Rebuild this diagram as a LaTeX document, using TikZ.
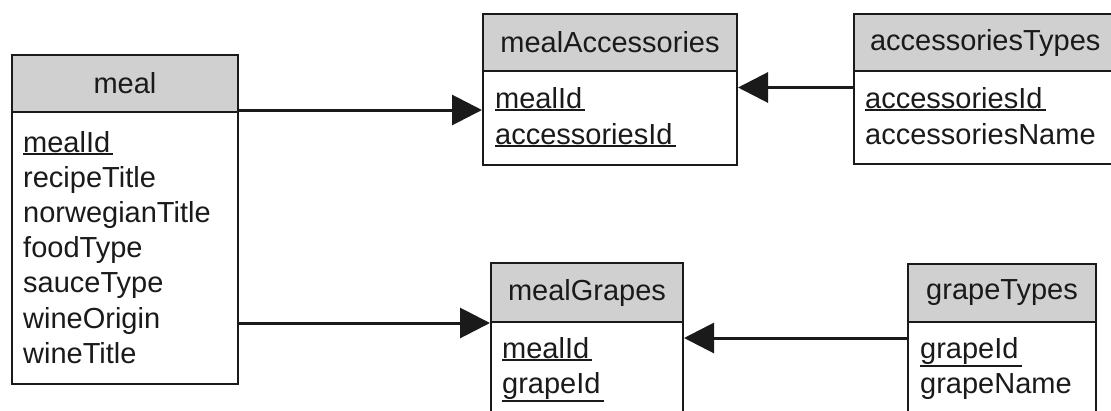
\documentclass[tikz,border=0pt]{standalone}
\usepackage{fontspec}
\setmainfont{Liberation Sans}
\usetikzlibrary{arrows.meta}
\definecolor{hdrfill}{RGB}{208,208,208}
\definecolor{ink}{RGB}{26,26,26}
\newcommand\tabfont{\fontsize{29}{35}\selectfont}
% primary key field: text with a rule just below its lowest point
\newcommand\keyfield[1]{\setbox0\hbox{#1}%
  \rlap{\rule[\dimexpr-\dp0-3pt\relax]{\dimexpr\wd0+3pt\relax}{2pt}}\box0}
\begin{document}
\begin{tikzpicture}[x=1pt,y=-1pt,
  header/.style={draw=ink, line width=2pt, fill=hdrfill, text=ink,
    anchor=north west, inner sep=0pt, minimum height=57pt, font=\tabfont},
  tbody/.style={draw=ink, line width=2pt, fill=white, anchor=north west,
    inner sep=0pt},
  field/.style={anchor=base west, inner sep=0pt, text=ink, font=\tabfont},
  link/.style={draw=ink, line width=3pt,
    -{Triangle[length=30pt,width=30pt]}}]
\useasboundingbox (0,0) rectangle (1111,410);
\clip (0,0) rectangle (1111,410);

% meal
\node[header, minimum width=226pt] (mealH) at (11,54) {meal};
\node[tbody, minimum width=226pt, minimum height=272pt] (mealB) at (11,111) {};
\node[field] (mealF1) at (23,152) {\keyfield{mealId}};
\node[field] (mealF2) at (23,187.2) {recipeTitle};
\node[field] (mealF3) at (23,222.4) {norwegianTitle};
\node[field] (mealF4) at (23,257.6) {foodType};
\node[field] (mealF5) at (23,292.8) {sauceType};
\node[field] (mealF6) at (23,328) {wineOrigin};
\node[field] (mealF7) at (23,363.2) {wineTitle};

% mealAccessories
\node[header, minimum width=254pt] (maH) at (482,13) {mealAccessories};
\node[tbody, minimum width=254pt, minimum height=94pt] (maB) at (482,70) {};
\node[field] (maF1) at (495,108) {\keyfield{mealId}};
\node[field] (maF2) at (495,144) {\keyfield{accessoriesId}};

% accessoriesTypes (its right border sits on the page edge)
\node[header, minimum width=258pt, text width=254pt, align=left] (atH) at (853,13) {\hspace*{14pt}accessoriesTypes};
\node[tbody, minimum width=258pt, minimum height=93pt] (atB) at (853,70) {};
\node[field] (atF1) at (865,108) {\keyfield{accessoriesId}};
\node[field] (atF2) at (865,144) {accessoriesName};

% mealGrapes
\node[header, minimum width=192pt, minimum height=59pt] (mgH) at (490,262) {mealGrapes};
\node[tbody, minimum width=192pt, minimum height=120pt] (mgB) at (490,321) {};
\node[field] (mgF1) at (502,358) {\keyfield{mealId}};
\node[field] (mgF2) at (502,393) {\keyfield{grapeId}};

% grapeTypes
\node[header, minimum width=188pt, minimum height=58pt] (gtH) at (907,263) {grapeTypes};
\node[tbody, minimum width=188pt, minimum height=120pt] (gtB) at (907,321) {};
\node[field] (gtF1) at (920,358) {\keyfield{grapeId}};
\node[field] (gtF2) at (920,393) {grapeName};

% relationships
\coordinate (l1) at ([yshift=3pt]mealH.south east);
\draw[link] (l1) -- (l1 -| maB.west);
\coordinate (l2) at ([yshift=-17.5pt]atB.north west);
\draw[link] (l2) -- (l2 -| maB.east);
\draw[link] (mealB.east |- mgH.south west) -- (mgH.south west);
\coordinate (l4) at ([yshift=-17pt]gtB.north west);
\draw[link] (l4) -- (l4 -| mgB.east);
\end{tikzpicture}
\end{document}
